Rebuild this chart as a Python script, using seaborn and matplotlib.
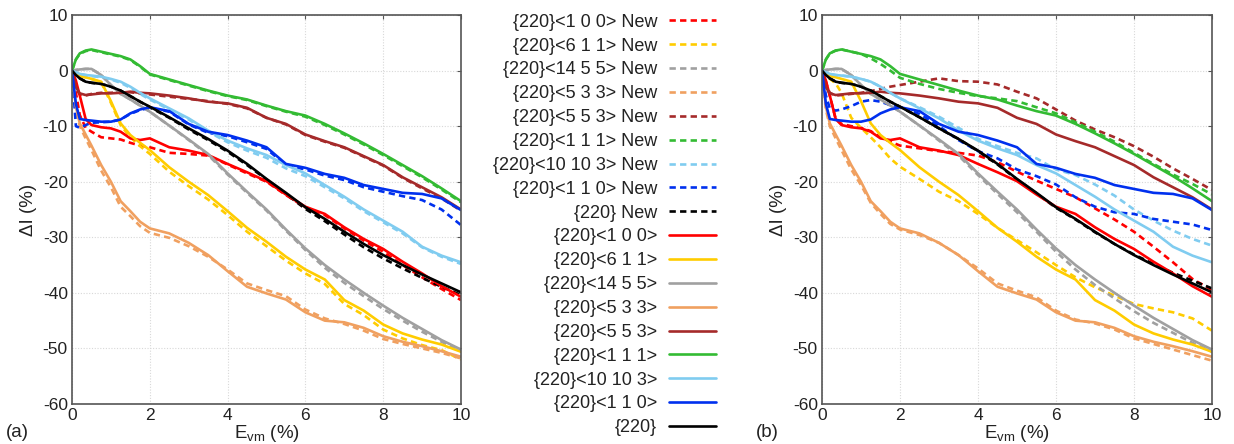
import numpy as np
import pandas as pd
import matplotlib
matplotlib.use("Agg")
import matplotlib.pyplot as plt
import seaborn as sns

# ---------------- data ----------------
X = [0, 0.1, 0.2, 0.35, 0.5, 0.75, 1, 1.25, 1.5, 1.75, 2, 2.5, 3, 3.5, 4, 4.5,
     5, 5.5, 6, 6.5, 7, 7.5, 8, 8.5, 9, 9.5, 10]

orient = ["<1 0 0>", "<6 1 1>", "<14 5 5>", "<5 3 3>", "<5 5 3>",
          "<1 1 1>", "<10 10 3>", "<1 1 0>", ""]

# solid curves (identical in both panels)
red_s = [0, -1.8, -4.5, -8.7, -9.8, -10.2, -10.4, -11.0, -12.2, -12.5, -12.2, -13.8, -14.4, -15.2, -16.8, -18.3, -19.9, -22.3, -24.5, -25.8, -28.2, -30.3, -32.1, -34.4, -36.5, -38.8, -40.7]
yellow_s = [0, -0.6, -1.0, -1.2, -1.5, -2.0, -5.5, -9.5, -11.6, -13.0, -14.3, -17.4, -20.0, -22.4, -25.3, -28.3, -30.8, -33.5, -35.8, -37.6, -41.3, -43.2, -45.7, -47.3, -48.4, -49.3, -50.6]
gray_s = [0, 0.1, 0.2, 0.3, 0.3, -0.8, -2.6, -4.2, -5.2, -6.3, -7.4, -9.9, -12.4, -15.0, -18.5, -21.8, -25.0, -28.6, -32.0, -35.0, -37.6, -40.0, -42.3, -44.5, -46.5, -48.5, -50.2]
orange_s = [0, -6.5, -9.5, -11.5, -13.5, -17.0, -20.0, -23.5, -25.3, -27.2, -28.4, -29.3, -31.0, -33.2, -36.1, -38.9, -40.1, -41.2, -43.5, -45.0, -45.3, -46.3, -47.8, -48.8, -49.6, -50.5, -51.5]
brown_s = [0, -3.0, -4.1, -4.4, -4.3, -4.1, -4.1, -4.0, -3.8, -4.0, -4.1, -4.5, -5.0, -5.6, -5.9, -6.7, -8.5, -9.6, -11.5, -12.7, -13.8, -15.4, -17.0, -19.2, -21.0, -22.8, -25.0]
green_s = [0, 2.0, 3.1, 3.6, 3.8, 3.4, 3.0, 2.6, 2.0, 0.8, -0.6, -1.6, -2.6, -3.6, -4.5, -5.2, -6.3, -7.3, -8.1, -9.6, -11.3, -13.1, -15.0, -17.0, -19.0, -21.2, -23.5]
lblue_s = [0, -0.3, -0.6, -0.8, -0.9, -1.1, -1.5, -2.0, -2.9, -4.0, -5.0, -6.8, -8.6, -10.8, -12.6, -14.0, -15.2, -17.0, -18.5, -20.6, -22.7, -25.0, -27.0, -29.0, -31.7, -33.3, -34.5]
blue_s = [0, -6.0, -8.7, -8.9, -9.0, -9.2, -9.2, -8.8, -7.7, -7.0, -6.6, -7.3, -9.6, -11.0, -11.6, -12.6, -13.8, -16.8, -17.5, -18.6, -19.3, -20.6, -21.3, -22.0, -22.2, -23.0, -25.1]
black_s = [0, -0.8, -1.4, -2.0, -2.2, -2.4, -2.9, -3.6, -4.6, -5.6, -6.5, -8.4, -10.4, -12.3, -14.4, -16.8, -19.5, -22.0, -24.6, -26.7, -29.0, -31.2, -33.2, -35.0, -36.7, -38.3, -39.9]

# dashed "New" curves, panel (a)
red_dL = [0, -4.0, -8.0, -10.3, -11.0, -12.0, -12.2, -12.4, -13.0, -13.5, -13.8, -14.8, -15.0, -15.3, -16.9, -18.5, -20.0, -22.4, -24.6, -26.0, -28.4, -30.6, -32.6, -35.0, -37.2, -39.3, -41.3]
yellow_dL = [0, -0.6, -1.0, -1.2, -1.5, -2.1, -5.8, -9.8, -12.0, -13.6, -15.0, -18.2, -20.8, -23.2, -26.0, -29.0, -31.6, -34.2, -36.5, -38.4, -42.0, -44.0, -46.6, -48.2, -49.4, -50.3, -52.0]
gray_dL = [0, 0.1, 0.2, 0.3, 0.3, -0.8, -2.6, -4.2, -5.2, -6.3, -7.4, -9.9, -12.5, -15.2, -18.7, -22.0, -25.2, -28.8, -32.3, -35.5, -38.2, -40.6, -42.9, -45.0, -47.0, -48.8, -50.5]
orange_dL = [0, -7.0, -10.0, -12.2, -14.3, -18.0, -21.0, -24.5, -26.2, -28.0, -29.2, -30.1, -31.6, -33.5, -35.8, -38.3, -39.5, -40.6, -43.0, -44.6, -45.6, -46.8, -48.3, -49.2, -50.0, -50.8, -51.8]
brown_dL = [0, -3.2, -4.3, -4.5, -4.2, -4.0, -4.0, -3.9, -3.9, -4.1, -4.3, -4.7, -5.1, -5.5, -6.0, -6.8, -8.5, -9.7, -11.6, -12.8, -13.9, -15.5, -17.1, -19.3, -21.2, -23.0, -25.2]
green_dL = [0, 2.0, 3.0, 3.5, 3.7, 3.3, 2.9, 2.5, 1.9, 0.7, -0.7, -1.7, -2.7, -3.7, -4.6, -5.3, -6.4, -7.4, -8.3, -9.8, -11.5, -13.3, -15.2, -17.2, -19.2, -21.4, -23.7]
lblue_dL = [0, -0.3, -0.6, -0.8, -1.0, -1.2, -1.6, -2.2, -3.1, -4.2, -5.2, -7.0, -8.8, -11.0, -12.9, -14.4, -15.7, -17.6, -19.0, -21.0, -23.0, -25.3, -27.3, -29.3, -31.8, -33.5, -34.8]
blue_dL = [0, -10.0, -10.3, -9.8, -9.4, -9.3, -9.2, -8.8, -7.8, -7.1, -6.7, -7.4, -9.7, -11.2, -11.8, -12.9, -14.1, -17.0, -17.8, -18.9, -19.7, -21.0, -21.8, -22.6, -23.3, -25.0, -27.8]
black_dL = [0, -0.8, -1.4, -2.0, -2.2, -2.4, -2.9, -3.6, -4.6, -5.6, -6.6, -8.5, -10.6, -12.5, -14.6, -17.0, -19.6, -22.2, -24.9, -27.1, -29.5, -31.8, -33.8, -35.6, -37.3, -38.9, -40.4]

# dashed "New" curves, panel (b)
red_dR = [0, -2.0, -4.5, -8.7, -9.6, -10.0, -10.3, -10.9, -12.0, -12.8, -13.5, -14.0, -14.5, -14.8, -15.3, -16.5, -18.2, -19.8, -21.3, -22.8, -24.8, -26.8, -29.0, -31.7, -34.5, -37.5, -39.5]
yellow_dR = [0, -0.8, -1.5, -2.3, -4.0, -8.5, -10.3, -12.0, -13.8, -15.8, -17.3, -19.5, -21.8, -23.5, -25.8, -28.3, -30.5, -32.7, -35.0, -37.2, -39.0, -40.5, -42.0, -42.8, -43.5, -44.6, -46.8]
gray_dR = [0, 0.1, 0.2, 0.3, 0.3, -0.8, -2.6, -4.2, -5.2, -6.3, -7.4, -9.9, -12.6, -15.3, -18.8, -22.2, -25.5, -29.0, -32.6, -35.8, -38.6, -41.0, -43.3, -45.4, -47.2, -49.0, -50.6]
orange_dR = [0, -7.0, -10.0, -12.2, -14.3, -17.8, -20.6, -23.8, -25.8, -27.6, -28.6, -29.6, -31.0, -33.2, -35.6, -38.3, -39.6, -40.8, -43.2, -44.8, -45.5, -46.6, -48.2, -49.2, -50.2, -51.2, -52.2]
brown_dR = [0, -2.5, -4.0, -4.5, -4.4, -4.2, -4.0, -3.7, -3.3, -2.9, -2.6, -2.0, -1.4, -1.9, -2.0, -2.5, -3.8, -5.0, -7.0, -9.0, -10.6, -12.0, -13.6, -15.5, -17.6, -19.5, -21.5]
green_dR = [0, 2.0, 3.1, 3.6, 3.8, 3.4, 3.0, 2.2, 1.2, 0.0, -1.3, -2.4, -3.3, -4.0, -4.6, -5.0, -5.5, -6.6, -7.7, -9.3, -11.0, -12.8, -14.8, -16.8, -18.7, -20.4, -22.3]
lblue_dR = [0, -0.3, -0.6, -0.8, -0.9, -1.1, -1.5, -2.0, -2.9, -4.0, -5.0, -6.6, -8.3, -10.3, -12.3, -13.6, -14.8, -15.8, -17.8, -18.8, -20.5, -22.5, -25.0, -27.0, -28.8, -30.3, -31.5]
blue_dR = [0, -4.5, -6.8, -7.2, -7.0, -6.4, -5.6, -5.3, -5.6, -6.2, -6.6, -7.8, -10.0, -12.5, -14.5, -15.8, -17.8, -19.0, -20.5, -22.8, -24.5, -25.5, -25.8, -26.7, -27.2, -27.7, -28.7]
black_dR = [0, -0.8, -1.4, -2.0, -2.2, -2.4, -2.9, -3.6, -4.6, -5.6, -6.5, -8.4, -10.4, -12.3, -14.5, -16.9, -19.6, -22.1, -24.7, -26.8, -29.1, -31.2, -33.1, -34.8, -36.4, -37.8, -39.2]

colors = ["#FF0000", "#FFCC00", "#A0A0A0", "#F0A060", "#A52A2A",
          "#33BB33", "#80CCF0", "#0030EE", "#000000"]

solid = [red_s, yellow_s, gray_s, orange_s, brown_s, green_s, lblue_s, blue_s, black_s]
dashL = [red_dL, yellow_dL, gray_dL, orange_dL, brown_dL, green_dL, lblue_dL, blue_dL, black_dL]
dashR = [red_dR, yellow_dR, gray_dR, orange_dR, brown_dR, green_dR, lblue_dR, blue_dR, black_dR]

# ---------------- style ----------------
sns.set_theme(style="white")
plt.rcParams["font.family"] = ["Liberation Sans", "DejaVu Sans"]
plt.rcParams["mathtext.fontset"] = "custom"
plt.rcParams["mathtext.rm"] = "Liberation Sans"
plt.rcParams["mathtext.it"] = "Liberation Sans:italic"
plt.rcParams["axes.unicode_minus"] = False

W, H = 1234, 444
fig = plt.figure(figsize=(W / 100, H / 100), dpi=100)
ax1 = fig.add_axes([72 / W, 40 / H, 389 / W, 389 / H])
ax2 = fig.add_axes([822 / W, 40 / H, 390 / W, 389 / H])

LW = 1.9
DASH = (0, (2.4, 1.6))


def label(o, new):
    s = "{220}" + (o if o else "")
    return s + " New" if new else s


def draw(ax, dashed):
    for o, c, v in zip(orient, colors, dashed):
        sns.lineplot(x=X, y=v, ax=ax, color=c, lw=LW, linestyle=DASH,
                     estimator=None, sort=False, legend=False,
                     label=label(o, True))
    for o, c, v in zip(orient, colors, solid):
        sns.lineplot(x=X, y=v, ax=ax, color=c, lw=LW, linestyle="-",
                     estimator=None, sort=False, legend=False,
                     label=label(o, False))
    ax.set_xlim(0, 10)
    ax.set_ylim(-60, 10)
    ax.set_xticks(range(0, 11, 2))
    ax.set_yticks(range(-60, 11, 10))
    ax.grid(True, color="#d8d8d8", linestyle=(0, (1, 1.5)), lw=0.8)
    for s in ax.spines.values():
        s.set_color("#555555")
        s.set_linewidth(1.2)
    ax.tick_params(direction="in", length=3, width=0.8, color="#555555",
                   top=True, right=True, labelsize=12.5, pad=3,
                   labelcolor="#222222")
    ax.set_xlabel("E$_{\\mathrm{vm}}$ (%)", fontsize=13.5, labelpad=0,
                  color="#222222")
    ax.set_ylabel("\u0394I (%)", fontsize=13.5, labelpad=4, color="#222222")


draw(ax1, dashL)
draw(ax2, dashR)

fig.text(6 / W, 1 - 432 / H, "(a)", fontsize=13.5, va="center", ha="left",
         color="#222222")
fig.text(756 / W, 1 - 432 / H, "(b)", fontsize=13.5, va="center", ha="left",
         color="#222222")

handles, labels = ax2.get_legend_handles_labels()
fig.legend(handles, labels, loc="center",
           bbox_to_anchor=(604.5 / W, 1 - 225 / H), frameon=False,
           markerfirst=False, borderpad=0, borderaxespad=0,
           handlelength=2.6, handletextpad=0.66, labelspacing=0.38,
           fontsize=13, labelcolor="#222222")

fig.savefig("out.png", dpi=100)
